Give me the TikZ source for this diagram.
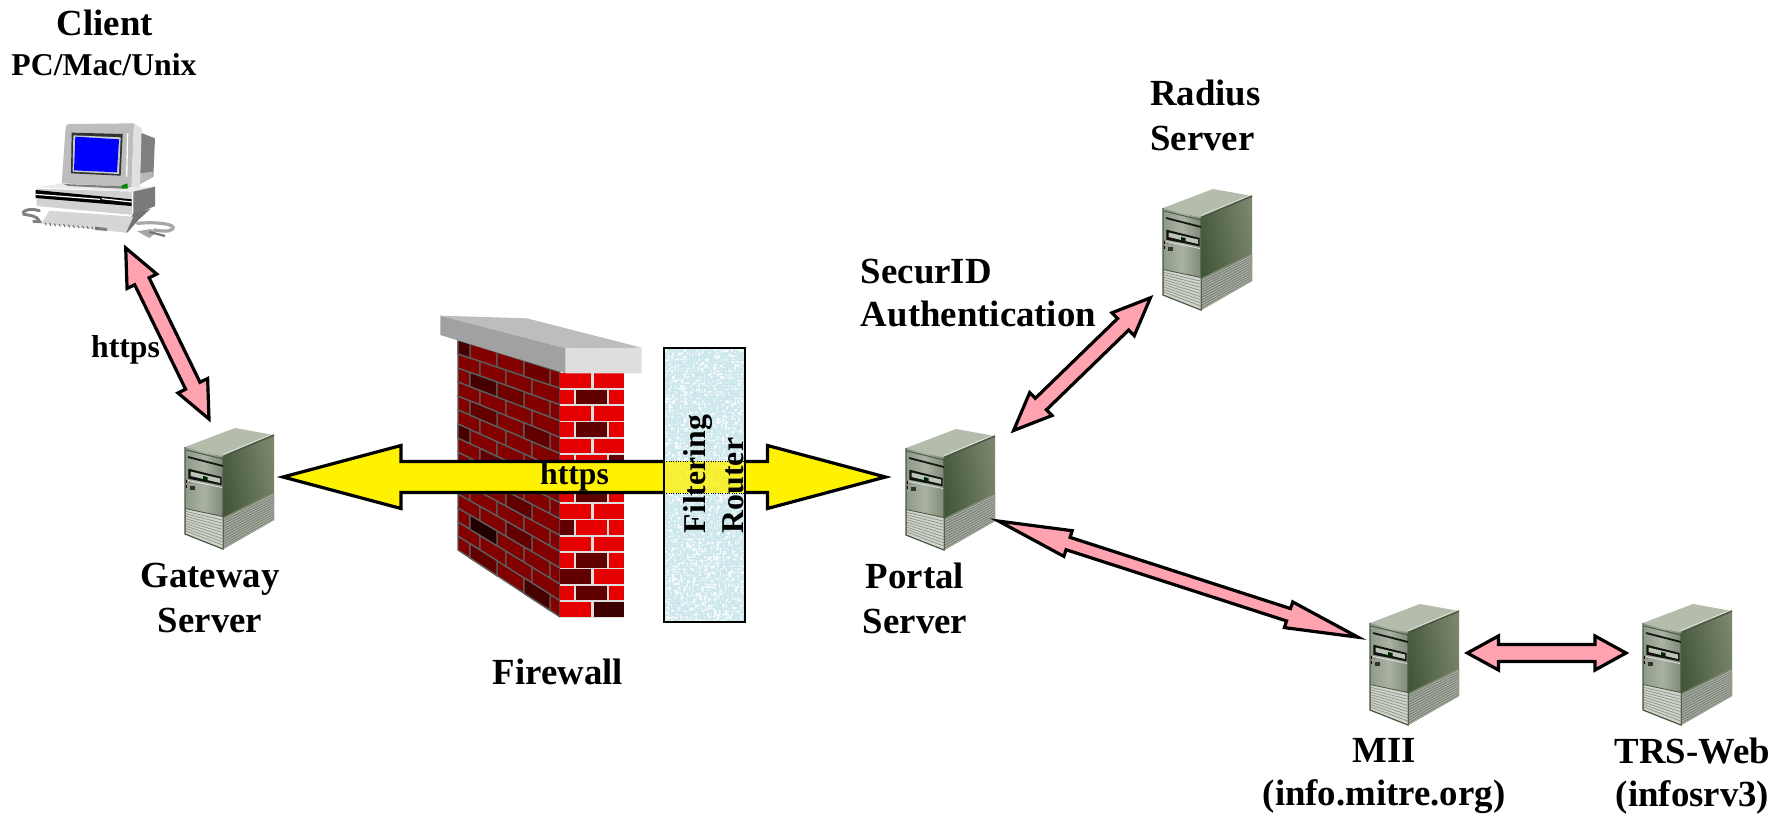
\documentclass[tikz,border=0pt]{standalone}
\usepackage{fontspec}
\setmainfont{Liberation Serif}
\usetikzlibrary{calc}
\definecolor{pinkfill}{RGB}{255,163,177}
\definecolor{wall}{RGB}{130,0,0}
\definecolor{wallface}{RGB}{228,0,0}
\definecolor{mortar}{RGB}{92,92,92}
\definecolor{mortarlight}{RGB}{222,222,222}
\definecolor{frontc}{RGB}{160,170,152}
\definecolor{topc}{RGB}{180,188,172}
\definecolor{edgec}{RGB}{76,88,70}
\definecolor{sidedark}{RGB}{62,82,52}
\definecolor{sidelight}{RGB}{122,134,108}
\definecolor{boxblue}{RGB}{205,232,236}
\tikzset{
  px/.style={line width=#1*0.75pt},
  lab/.style={font=\fontsize{27.6}{33.75}\selectfont\bfseries,inner sep=0pt,align=center},
  labtight/.style={font=\fontsize{27.6}{32.5}\selectfont\bfseries,inner sep=0pt,align=center},
  labsmall/.style={font=\fontsize{23.8}{28.3}\selectfont\bfseries,inner sep=0pt,align=center},
  pinkarrow/.style={draw=black,fill=pinkfill,line width=2.4pt,miter limit=10},
  yellowarrow/.style={draw=black,fill=yellow,line width=2.4pt,miter limit=10},
  declare function={wy(\p,\q)=340+0.314*(\p-458)+\q*(14+0.0228*(\p-458));}
}
% style, end a, end b, shaft half width, head length, head half width (px)
\newcommand\dblarrow[6]{%
  \draw[#1] (#2)
    -- ($(#2)!#5*0.75pt!(#3)!#6*0.75pt!90:(#3)$)
    -- ($(#2)!#5*0.75pt!(#3)!#4*0.75pt!90:(#3)$)
    -- ($(#3)!#5*0.75pt!(#2)!#4*0.75pt!-90:(#2)$)
    -- ($(#3)!#5*0.75pt!(#2)!#6*0.75pt!-90:(#2)$)
    -- (#3)
    -- ($(#3)!#5*0.75pt!(#2)!#6*0.75pt!90:(#2)$)
    -- ($(#3)!#5*0.75pt!(#2)!#4*0.75pt!90:(#2)$)
    -- ($(#2)!#5*0.75pt!(#3)!#4*0.75pt!-90:(#3)$)
    -- ($(#2)!#5*0.75pt!(#3)!#6*0.75pt!-90:(#3)$)
    -- cycle;}
\newcommand\serverbox[2]{%
  \coordinate (#1) at (#2);
  \begin{scope}[shift={(#1)}]
    % top
    \fill[topc] (0,0) -- (50,-19) -- (89,-12) -- (38,9.5) -- cycle;
    % side
    \shade[left color=sidedark,right color=sidelight,shading angle=100]
      (38,9.5) -- (89,-12) -- (89,73) -- (38,102) -- cycle;
    \draw[edgec,px=1.6] (38,9.5) -- (89,-12);
    \draw[white!60!topc,px=0.8] (38,7.5) -- (89,-13.5);
    % side vent
    \fill[sidelight!70!gray] (38.5,70) -- (89,45) -- (89,73) -- (38.5,102) -- cycle;
    \foreach \k in {1,...,12}{
      \draw[edgec!60!gray!50!white,px=0.8] (38.5,{70+\k*2.6}) -- (89,{45+\k*2.3});
    }
    % front
    \shade[left color=frontc!80!edgec,right color=frontc!60!edgec,middle color=frontc!90!white]
      (0,0) -- (38,9.5) -- (38,102) -- (0,87) -- cycle;
    \draw[edgec,px=1.3] (0,0) -- (0,87) -- (38,102) -- (38,9.5);
    % slots
    \draw[edgec,px=1] (1,3) -- (38,12);
    \draw[black!75!edgec,px=1.8] (3,10) -- (38,19);
    % drive bay
    \fill[black!80!edgec] (3.3,21.7) -- (36.7,30) -- (36.7,38.3) -- (3.3,31.7) -- cycle;
    \fill[frontc!70!white] (5.5,24.5) -- (35,31.5) -- (35,36) -- (5.5,29) -- cycle;
    \fill[black!85!green] (18,29) -- (22.5,30) -- (22.5,34.5) -- (18,33.5) -- cycle;
    \draw[white!70!frontc,px=0.8] (3,33.5) -- (37,40.5);
    % badge marks
    \fill[red!70!orange] (3.5,34.5) rectangle (5,36);
    \fill[black] (1,33) rectangle (2.2,36);
    \fill[black] (1,38) rectangle (2.2,40.5);
    \fill[black!80] (5,39) rectangle (10,42.5);
    % front vent
    \fill[frontc!50!white] (1,62) -- (37.5,70) -- (37.5,101) -- (1,86.5) -- cycle;
    \foreach \k in {1,...,9}{
      \draw[edgec!65!white,px=0.7] (1,{62+\k*2.45}) -- (37.5,{70+\k*3.1});
    }
    \draw[edgec,px=0.8] (0,61.5) -- (38,69.5);
  \end{scope}}
\newcommand\wbrick[4]{\fill[#4,draw=mortar,px=1.4] (#1,{wy(#1,#3)}) -- (#2,{wy(#2,#3)}) -- (#2,{wy(#2,#3+1)}) -- (#1,{wy(#1,#3+1)}) -- cycle;}
\newcommand\rbrick[4]{\fill[#4] (#1,{373.3+16.33*#3}) rectangle (#2,{373.3+16.33*#3+14.6});}
\begin{document}
\begin{tikzpicture}[x=0.75pt,y=-0.75pt]
\useasboundingbox (0,0) rectangle (1789,817);
\fill[white] (0,0) rectangle (1789,817);

% ---- client computer (coordinates of a 3x view)
\coordinate (pc) at (0,80);
\begin{scope}[shift={(pc)},x=0.25pt,y=-0.25pt]
  \draw[gray,line width=2.2pt,line cap=round] (118,392) .. controls (85,382) and (62,395) .. (72,403) .. controls (85,406) and (108,405) .. (118,422);
  \draw[gray!70,line width=2.4pt,line cap=round] (412,430) .. controls (470,425) and (530,432) .. (518,447) .. controls (505,458) and (480,452) .. (462,450);
  % monitor
  \fill[black!50] (422,158) -- (465,175) -- (460,290) -- (420,312) -- cycle;
  \fill[black!28] (420,280) -- (458,275) -- (458,292) -- (420,312) -- cycle;
  \fill[black!26] (197,140) .. controls (198,132) and (205,132) .. (215,132) -- (402,130) -- (395,320) -- (185,312) -- cycle;
  \fill[black!12] (402,130) -- (425,145) -- (420,322) -- (394,322) -- cycle;
  \fill[white] (385,160) -- (382,290) -- (378,290) -- (381,160) -- cycle;
  \fill[black!80] (215,158) -- (368,162) -- (362,287) -- (213,280) -- cycle;
  \fill[black!20] (220,166) -- (362,172) -- (357,282) -- (218,275) -- cycle;
  \fill[blue] (226,170) -- (357,178) -- (351,277) -- (222,271) -- cycle;
  % base
  \fill[black!8] (110,322) -- (190,310) -- (400,322) -- (465,320) -- (400,335) -- cycle;
  \fill[black!50] (190,312) -- (395,320) -- (365,326) -- (205,318) -- cycle;
  \fill[green!55!black] (365,316) -- (383,310) -- (383,326) -- (365,326) -- cycle;
  \fill[black!18] (110,326) -- (400,335) -- (400,405) -- (110,378) -- cycle;
  \fill[black!52] (400,335) -- (465,320) -- (465,378) -- (400,405) -- cycle;
  \fill[white] (400,335) -- (400,405) -- (396,405) -- (396,335) -- cycle;
  \fill[black] (107,330) -- (395,358) -- (395,378) -- (107,354) -- cycle;
  \draw[white,line width=0.9pt] (107,343) -- (300,358);
  \draw[white,line width=0.9pt] (305,356) -- (395,366);
  % keyboard
  \fill[black!55] (400,400) -- (452,386) -- (415,420) -- (382,458) -- (372,455) -- cycle;
  \fill[black!16] (148,392) -- (400,410) -- (378,458) -- (125,430) -- cycle;
  \fill[gray] (98,420) -- (125,422) -- (125,430) -- (98,428) -- cycle;
  \fill[gray] (285,440) -- (322,444) -- (320,453) -- (285,450) -- cycle;
  \foreach \k in {0,...,11}{
    \draw[black!60,line width=0.7pt] ({135+\k*14},{428+\k*1.2}) -- ({139+\k*14},{436+\k*1.2});
  }
  % mouse
  \fill[black!35] (412,454) -- (452,447) -- (468,458) -- (448,474) -- cycle;
  \draw[black!55,line width=1.6pt] (448,456) -- (495,468);
\end{scope}

% ---- servers
\serverbox{gatewaysrv}{185,447}
\serverbox{portalsrv}{906,448}
\serverbox{radiussrv}{1163,208}
\serverbox{miisrv}{1370,623}
\serverbox{trssrv}{1643,623}

% ---- firewall
\foreach \r in {0,2,...,14}{
  \foreach \a/\b in {458/470,470/497,497/524,524/550,550/560}{\wbrick{\a}{\b}{\r}{wall}}
}
\foreach \r in {1,3,...,13}{
  \foreach \a/\b in {458/480,480/506,506/532,532/560}{\wbrick{\a}{\b}{\r}{wall}}
}
\definecolor{d110}{RGB}{110,0,0}\definecolor{d100}{RGB}{98,0,0}\definecolor{d70}{RGB}{70,0,0}\definecolor{d35}{RGB}{35,0,0}
\wbrick{458}{470}{0}{d70}\wbrick{524}{550}{0}{d110}
\wbrick{470}{497}{2}{d70}\wbrick{497}{524}{2}{d110}
\wbrick{470}{497}{4}{d100}\wbrick{524}{550}{4}{d100}
\wbrick{458}{470}{6}{d70}
\wbrick{480}{506}{7}{d100}
\wbrick{506}{532}{9}{d100}
\wbrick{506}{532}{11}{d100}
\wbrick{470}{497}{12}{d35}
\wbrick{470}{497}{14}{d100}\wbrick{524}{550}{14}{d70}
\fill[mortarlight] (560,373) rectangle (624,618);
\foreach \r in {0,2,...,14}{\rbrick{560}{591}{\r}{wallface}\rbrick{593.5}{624}{\r}{wallface}}
\foreach \r in {1,3,...,13}{\rbrick{560}{573.5}{\r}{wallface}\rbrick{575.5}{607}{\r}{wallface}\rbrick{609}{624}{\r}{wallface}}
\definecolor{rd}{RGB}{96,0,0}\definecolor{rdd}{RGB}{60,0,0}
\foreach \r in {1,3,7,11,13}{\rbrick{575.5}{607}{\r}{rd}}
\rbrick{609}{624}{5}{rd}
\rbrick{560}{573.5}{9}{rd}
\rbrick{560}{591}{12}{rd}
\rbrick{593.5}{624}{14}{rdd}
% coping
\fill[black!26] (440.3,315.7) -- (526.7,318.3) -- (641.7,347.7) -- (565.7,348.3) -- cycle;
\fill[black!37] (440.3,315.7) -- (565.7,348.3) -- (565.7,373.3) -- (440.3,335) -- cycle;
\fill[black!13] (565.7,348.3) -- (641.7,347.7) -- (641.7,373.3) -- (565.7,373.3) -- cycle;

% ---- connectors
\coordinate (ca) at (125.7,248);  \coordinate (cb) at (209,419);
\coordinate (ra) at (1150.4,297.8); \coordinate (rb) at (1013.6,430.5);
\coordinate (pa) at (998.6,521.1); \coordinate (pb) at (1358,637.2);
\coordinate (ma) at (1467.4,653); \coordinate (mb) at (1626,653);
\coordinate (ya) at (283,477);   \coordinate (yb) at (885.5,477);
\dblarrow{pinkarrow}{ca}{cb}{8}{37}{16.5}
\dblarrow{pinkarrow}{ra}{rb}{8}{38}{16}
\dblarrow{pinkarrow}{pa}{pb}{6.5}{73}{13.5}
\dblarrow{pinkarrow}{ma}{mb}{8.5}{31}{17}
\dblarrow{yellowarrow}{ya}{yb}{15.5}{118}{31.5}

% ---- filtering router
\coordinate (fa) at (664,348); \coordinate (fb) at (745,622);
\fill[boxblue] (fa) rectangle (fb);
\pgfmathsetseed{7}
\fill[white,opacity=0.85] \foreach \sx in {665,668,...,742}{\foreach \sy in {349,352,...,619}{
  ({\sx+rnd},{\sy+rnd}) rectangle ++({rnd*3},{rnd*3})}};
\fill[yellow,opacity=0.78] (664,461) rectangle (745,493);
\draw[black,px=1,densely dotted] (664,461) -- (745,461) (664,493) -- (745,493);
\draw[gray,px=2.8] (fa) rectangle (fb);
\draw[black,px=1.5] (fa) rectangle (fb);

% ---- labels
\node[lab] (clientlab) at (104.7,23) {Client};
\node[labsmall] (pclab) at (104,65) {PC/Mac/Unix};
\node[labsmall] (https1) at (125.5,350) {https};
\node[labsmall] (https2) at (574.5,477) {https};
\node[lab] (gatewaylab) at (210,598) {Gateway\\Server};
\node[lab] (firewalllab) at (558,672) {Firewall};
\node[labsmall,rotate=90,align=left] (routerlab) at (714,474) {Filtering\\Router};
\node[lab] (portallab) at (915,598) {Portal\\Server};
\node[lab,align=left,anchor=west] (radiuslab) at (1150,115) {Radius\\Server};
\node[labtight,align=left,anchor=west] (securidlab) at (860.7,293) {SecurID\\Authentication};
\node[labtight] (miilab) at (1384,776) {MII\\(info.mitre.org)};
\node[labtight] (trslab) at (1692.5,776) {TRS-Web\\(infosrv3)};
\end{tikzpicture}
\end{document}
